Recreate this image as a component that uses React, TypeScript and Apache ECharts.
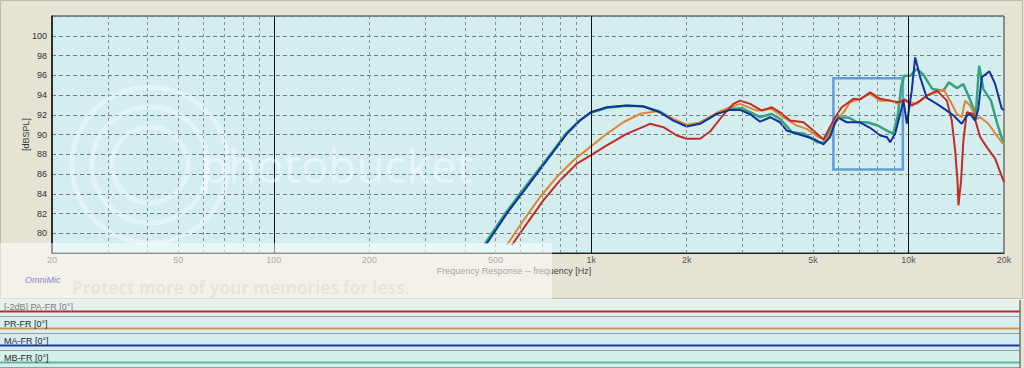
import React, { useEffect, useRef } from 'react';
import * as echarts from 'echarts';

// ---- data ----
const freqLabels = [20, 50, 100, 200, 500, 1000, 2000, 5000, 10000, 20000];
const majorGrid = [100, 1000, 10000];
const minorGrid = [30, 40, 50, 60, 70, 80, 90, 200, 300, 400, 500, 600, 700, 800, 900, 2000, 3000, 4000, 5000, 6000, 7000, 8000, 9000];
const dbMin = 78;
const dbMax = 102;
const dbStep = 2;

const seriesNames = ['[-2dB] PA-FR [0°]', 'PR-FR [0°]', 'MA-FR [0°]', 'MB-FR [0°]'];
const seriesColors = ['#c42a26', '#e0842e', '#14309a', '#35a47e'];
const legendLineColors = ['#b8282c', '#c89a5a', '#1a3a9a', '#5ab89a'];

const paFr: [number, number][] = [
  [562, 78.79], [627, 80.98], [707, 83.33], [798, 85.35], [901, 87.04], [997, 87.88], [1120, 88.89], [1294, 90.07],
  [1534, 91.08], [1690, 90.74], [1862, 89.9], [2000, 89.57], [2204, 89.57], [2370, 90.3], [2610, 92.0], [2807, 93.1],
  [2946, 93.43], [3170, 93.1], [3450, 92.42], [3709, 92.76], [3938, 92.25], [4236, 91.41], [4666, 91.24], [5015, 90.4],
  [5396, 89.5], [5874, 91.75], [6164, 92.76], [6706, 93.61], [7036, 93.55], [7568, 94.27], [8146, 93.61], [8755, 93.43],
  [9292, 93.26], [9755, 93.55], [10240, 92.93], [10890, 93.43], [11426, 93.94], [12285, 94.44], [13214, 93.43],
  [13694, 91.41], [14030, 88.38], [14270, 85.35], [14370, 82.83], [14650, 85.35], [14896, 89.4], [15272, 92.25],
  [16026, 92.09], [16828, 89.73], [17650, 88.72], [18752, 87.55], [19820, 85.5], [20000, 85.2],
];

const prFr: [number, number][] = [
  [542, 78.79], [612, 81.31], [690, 83.67], [779, 85.69], [879, 87.37], [992, 88.72], [1120, 90.07], [1263, 91.24],
  [1426, 92.09], [1610, 92.35], [1816, 91.59], [2000, 91.0], [2204, 91.2], [2489, 92.2], [2740, 92.76], [2946, 93.1],
  [3326, 92.42], [3709, 92.6], [4036, 91.75], [4446, 90.9], [4781, 90.57], [5200, 89.73], [5528, 89.4], [5944, 91.41],
  [6300, 92.42], [6546, 93.26], [7036, 93.61], [7568, 94.11], [8146, 93.43], [8755, 93.43], [9292, 93.1], [9755, 93.43],
  [10118, 93.26], [10620, 93.1], [11426, 93.94], [12285, 94.27], [12884, 94.6], [13522, 93.43], [14200, 92.09],
  [14724, 91.75], [15080, 93.43], [15632, 92.93], [16412, 91.59], [16828, 91.75], [17862, 91.08], [18968, 89.9],
  [19680, 89.22], [20000, 89.0],
];

const maFr: [number, number][] = [
  [469, 78.96], [542, 81.99], [627, 84.68], [725, 87.37], [838, 90.07], [922, 91.41], [997, 92.25], [1120, 92.76],
  [1294, 92.93], [1462, 92.83], [1649, 92.25], [1816, 91.41], [2000, 90.81], [2204, 91.08], [2489, 92.09], [2740, 92.49],
  [2946, 92.49], [3170, 92.05], [3406, 91.3], [3664, 91.75], [3938, 91.24], [4134, 90.4], [4554, 89.97], [5015, 89.57],
  [5396, 89.0], [5662, 89.73], [5874, 91.24], [6016, 91.69], [6393, 91.24], [7036, 91.24], [7568, 90.68], [8146, 89.9],
  [8551, 89.73], [8755, 89.22], [9078, 90.07], [9417, 92.09], [9641, 93.43], [9884, 91.1], [10240, 94.44], [10496, 97.81],
  [10890, 95.79], [11426, 93.7], [12285, 93.1], [13214, 92.42], [13868, 91.92], [14724, 91.08], [15272, 91.92],
  [15632, 92.09], [16218, 91.41], [16600, 92.6], [17022, 95.79], [17990, 96.39], [18752, 95.12], [19680, 92.6], [20000, 92.5],
];

const mbFr: [number, number][] = [
  [462, 78.9], [535, 81.95], [620, 84.7], [720, 87.4], [832, 90.05], [918, 91.4], [997, 92.2], [1120, 92.7],
  [1294, 92.9], [1462, 92.85], [1649, 92.3], [1816, 91.5], [2000, 90.9], [2204, 91.2], [2489, 92.1], [2740, 92.6],
  [3000, 92.65], [3406, 91.75], [3700, 92.09], [3938, 91.59], [4300, 90.23], [4700, 90.07], [5150, 89.22], [5400, 89.16],
  [5800, 90.91], [6000, 91.75], [6500, 91.69], [6900, 91.24], [7400, 91.24], [8000, 90.91], [8551, 90.4], [8950, 90.07],
  [9250, 91.92], [9500, 94.95], [9700, 95.96], [10150, 95.96], [10600, 96.63], [11100, 96.13], [11900, 94.6],
  [12900, 94.44], [13400, 95.28], [14200, 94.7], [14900, 95.1], [15600, 93.6], [16300, 92.09], [16700, 96.97],
  [17220, 94.6], [18200, 93.43], [19000, 91.2], [19800, 89.4], [20000, 89.2],
];

// highlighted region (frequency, dB)
const boxRange = { f1: 5800, f2: 9600, db1: 86.45, db2: 95.7 };

const fmtFreq = (v: number) => {
  const r = Math.round(v);
  return r >= 1000 ? `${Math.round(r / 1000)}k` : `${r}`;
};

export default function App() {
  const ref = useRef<HTMLDivElement>(null);

  useEffect(() => {
    if (!ref.current) return;
    const chart = echarts.init(ref.current, undefined, { renderer: 'svg' });

    const rowTops = [300, 317, 334, 351];
    const legendGraphics: any[] = [];
    seriesNames.forEach((name, i) => {
      const top = rowTops[i];
      legendGraphics.push({
        type: 'rect',
        shape: { x: 0, y: top, width: 1020, height: 17 },
        style: { fill: ['#e6f1ef', '#d9efef', '#d6ecf2', '#d5f0ea'][i] },
        silent: true,
      });
      legendGraphics.push({
        type: 'line',
        shape: { x1: 0, y1: top + 11.5, x2: 1020, y2: top + 11.5 },
        style: { stroke: legendLineColors[i], lineWidth: 2 },
        silent: true,
      });
      legendGraphics.push({
        type: 'line',
        shape: { x1: 0, y1: top + 17, x2: 1020, y2: top + 17 },
        style: { stroke: '#7c8484', lineWidth: 1.5 },
        silent: true,
      });
      legendGraphics.push({
        type: 'text',
        x: 4,
        y: top + 2,
        style: {
          text: name,
          fill: i === 0 ? '#7a7a7a' : '#2a2a2a',
          font: '9px "Liberation Sans", Arial, sans-serif',
          textVerticalAlign: 'top',
        },
        silent: true,
      });
    });

    const option: any = {
      animation: false,
      backgroundColor: '#e6e3d4',
      textStyle: { fontFamily: '"Liberation Sans", Arial, sans-serif' },
      grid: {
        left: 52,
        right: 20,
        top: 16,
        bottom: 115,
        show: true,
        backgroundColor: '#d4eef0',
        borderColor: '#333',
        borderWidth: 1,
        containLabel: false,
      },
      xAxis: {
        type: 'log',
        logBase: 10,
        min: 20,
        max: 20000,
        name: 'Frequency Response -- frequency [Hz]',
        nameLocation: 'middle',
        nameGap: 13,
        nameMoveOverlap: false,
        nameTextStyle: { fontSize: 9, color: '#444', padding: [0, 28, 0, 0] },
        axisLine: { show: true, lineStyle: { color: '#222', width: 1 } },
        axisTick: { show: false },
        splitLine: { show: false },
        minorSplitLine: { show: false },
        axisLabel: {
          customValues: freqLabels,
          formatter: (v: number) => fmtFreq(v),
          fontSize: 9,
          color: '#555',
          margin: 2,
          showMinLabel: true,
          showMaxLabel: true,
        },
      },
      yAxis: {
        type: 'value',
        min: dbMin,
        max: dbMax,
        interval: dbStep,
        name: '[dBSPL]',
        nameLocation: 'middle',
        nameGap: 22,
        nameMoveOverlap: false,
        nameTextStyle: { fontSize: 9, color: '#333' },
        axisLine: { show: true, lineStyle: { color: '#111', width: 1.5 } },
        axisTick: { show: false },
        axisLabel: {
          fontSize: 9,
          color: '#333',
          margin: 5,
          showMinLabel: false,
          showMaxLabel: false,
          formatter: (v: number) => (v <= dbMin || v >= dbMax ? '' : String(v)),
        },
        splitLine: { show: true, lineStyle: { color: '#6d7e80', type: [4, 3], width: 1 } },
      },
      series: [
        {
          name: 'grid',
          type: 'line',
          data: [],
          z: 1,
          silent: true,
          markLine: {
            silent: true,
            symbol: 'none',
            label: { show: false },
            animation: false,
            data: [
              ...minorGrid.map((v) => ({ xAxis: v, lineStyle: { color: '#7f9091', type: [3, 3], width: 1 } })),
              ...majorGrid.map((v) => ({ xAxis: v, lineStyle: { color: '#111', type: 'solid', width: 1 } })),
            ],
          },
        },
        {
          name: seriesNames[3],
          type: 'line',
          data: mbFr,
          showSymbol: false,
          z: 3,
          lineStyle: { color: seriesColors[3], width: 2.5 },
          itemStyle: { color: seriesColors[3] },
        },
        {
          name: seriesNames[1],
          type: 'line',
          data: prFr,
          showSymbol: false,
          z: 3,
          lineStyle: { color: seriesColors[1], width: 2 },
          itemStyle: { color: seriesColors[1] },
        },
        {
          name: seriesNames[0],
          type: 'line',
          data: paFr,
          showSymbol: false,
          z: 3,
          lineStyle: { color: seriesColors[0], width: 2 },
          itemStyle: { color: seriesColors[0] },
        },
        {
          name: seriesNames[2],
          type: 'line',
          data: maFr,
          showSymbol: false,
          z: 3,
          lineStyle: { color: seriesColors[2], width: 2 },
          itemStyle: { color: seriesColors[2] },
          markArea: {
            silent: true,
            itemStyle: { color: 'rgba(0,0,0,0)', borderColor: '#5f9ed8', borderWidth: 2.5 },
            data: [[{ coord: [boxRange.f1, boxRange.db2] }, { coord: [boxRange.f2, boxRange.db1] }]],
          },
        },
      ],
      graphic: [
        // outer frame
        {
          type: 'rect',
          shape: { x: 0.5, y: 0.5, width: 1022, height: 298 },
          style: { fill: 'none', stroke: '#bdb9a8', lineWidth: 1 },
          silent: true,
          z: 0,
        },
        // watermark circles
        ...[38, 58, 78].map((r) => ({
          type: 'circle',
          shape: { cx: 150, cy: 165, r },
          style: { fill: 'none', stroke: 'rgba(255,255,255,0.35)', lineWidth: 5 },
          silent: true,
          z: 50,
        })),
        {
          type: 'text',
          x: 200,
          y: 142,
          style: {
            text: 'photobucket',
            fill: 'rgba(255,255,255,0.45)',
            font: '46px "Open Sans", sans-serif',
          },
          silent: true,
          z: 50,
        },
        // watermark lower box
        {
          type: 'rect',
          shape: { x: 0, y: 243, width: 552, height: 57 },
          style: { fill: 'rgba(255,255,255,0.5)' },
          silent: true,
          z: 60,
        },
        {
          type: 'text',
          x: 72,
          y: 279,
          style: {
            text: 'Protect more of your memories for less.',
            fill: 'rgba(170,160,130,0.18)',
            font: 'bold 17px "Open Sans", sans-serif',
          },
          silent: true,
          z: 61,
        },
        {
          type: 'text',
          x: 25,
          y: 275,
          style: {
            text: 'OmniMic',
            fill: '#8a8ac8',
            font: 'italic 9px "Liberation Sans", Arial, sans-serif',
          },
          silent: true,
          z: 62,
        },
        ...legendGraphics.map((g) => ({ ...g, z: 70 })),
        {
          type: 'line',
          shape: { x1: 1020, y1: 300, x2: 1020, y2: 368 },
          style: { stroke: '#6f7878', lineWidth: 1.5 },
          silent: true,
          z: 71,
        },
        {
          type: 'line',
          shape: { x1: 0, y1: 299.5, x2: 1024, y2: 299.5 },
          style: { stroke: '#f4f2ea', lineWidth: 1 },
          silent: true,
          z: 71,
        },
      ],
    };

    chart.setOption(option);
    return () => chart.dispose();
  }, []);

  return (
    <div
      ref={ref}
      style={{ position: 'absolute', left: 0, top: 0, width: 1024, height: 368 }}
    />
  );
}
